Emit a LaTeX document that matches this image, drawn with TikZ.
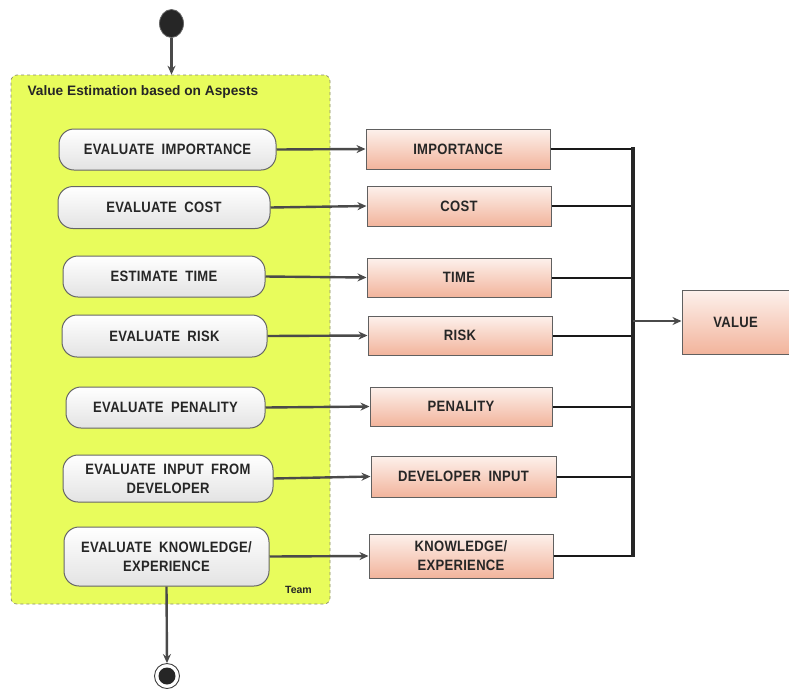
\documentclass[tikz,border=0pt]{standalone}
\usepackage{fontspec}
\setmainfont{Liberation Sans}
\newfontfamily\boxfont{Liberation Sans}[WordSpace=1.9,LetterSpace=2,FakeStretch=0.87]
\usetikzlibrary{arrows.meta,shadings,shapes.geometric}
\definecolor{swim}{HTML}{E8FC5C}
\definecolor{swimborder}{HTML}{8A8A70}
\definecolor{conn}{HTML}{4A4A4A}
\definecolor{boxtop}{HTML}{FDF1EC}
\definecolor{boxbot}{HTML}{F2B49C}
\tikzset{
  activity/.style={draw=gray!80!black, line width=1pt, rounded corners=15pt,
    top color=white, bottom color=gray!22, inner sep=0pt, align=center,
    font=\boxfont\bfseries\fontsize{15}{19}\selectfont, text=black!85},
  result/.style={draw=gray!75!black, line width=1pt,
    top color=boxtop, bottom color=boxbot, inner sep=0pt, align=center,
    font=\boxfont\bfseries\fontsize{15}{19}\selectfont, text=black!85},
  flow/.style={draw=conn, line width=2.4pt, -{Stealth[length=9pt,width=8pt]}},
  feed/.style={draw=black!90, line width=2pt},
}
\begin{document}
\begin{tikzpicture}[x=1pt, y=-1pt]
\useasboundingbox (0,0) rectangle (789,689);

% swimlane container
\node[draw=swimborder, dashed, line width=0.7pt, fill=swim, rounded corners=6pt,
  minimum width=319pt, minimum height=529pt, inner sep=0pt] (lane) at (170.5,339.5) {};
\node[anchor=west, font=\bfseries\fontsize{13.7}{16}\selectfont, text=black!85] (title) at (24,92) {Value Estimation based on Aspests};
\node[font=\bfseries\fontsize{10.5}{12}\selectfont, text=black!85] (team) at (298.5,590) {Team};

% initial node
\node[ellipse, fill=black!85, draw=black!60, line width=0.8pt, minimum width=24pt, minimum height=28pt, inner sep=0pt] (start) at (171.5,23.5) {};

% activities
\node[activity, minimum width=217pt, minimum height=41pt] (a1) at (167.5,149.5) {EVALUATE IMPORTANCE};
\node[activity, minimum width=212pt, minimum height=42pt] (a2) at (164,207.5) {EVALUATE COST};
\node[activity, minimum width=202pt, minimum height=41pt] (a3) at (164,276.5) {ESTIMATE TIME};
\node[activity, minimum width=205pt, minimum height=42pt] (a4) at (164.5,336) {EVALUATE RISK};
\node[activity, minimum width=199pt, minimum height=41pt] (a5) at (165.5,407.5) {EVALUATE PENALITY};
\node[activity, minimum width=210pt, minimum height=47pt] (a6) at (168,478.5) {EVALUATE INPUT FROM\\DEVELOPER};
\node[activity, minimum width=205pt, minimum height=59pt] (a7) at (166.5,556.5) {EVALUATE KNOWLEDGE/\\EXPERIENCE};

% results
\node[result, minimum width=184pt, minimum height=40pt] (r1) at (458,149) {IMPORTANCE};
\node[result, minimum width=184pt, minimum height=40pt] (r2) at (459,206) {COST};
\node[result, minimum width=184pt, minimum height=39pt] (r3) at (459,277.5) {TIME};
\node[result, minimum width=184pt, minimum height=39pt] (r4) at (460,335.5) {RISK};
\node[result, minimum width=182pt, minimum height=39pt] (r5) at (461,406.5) {PENALITY};
\node[result, minimum width=185pt, minimum height=41pt] (r6) at (463.5,476.5) {DEVELOPER INPUT};
\node[result, minimum width=184pt, minimum height=44pt] (r7) at (461,556) {KNOWLEDGE/\\EXPERIENCE};

\node[result, minimum width=107pt, minimum height=64pt] (value) at (735.5,322) {VALUE};

% final node
\node[circle, draw=black!75, fill=white, line width=0.9pt, minimum size=25pt, inner sep=0pt] (final) at (167,676) {};
\node[circle, fill=black!85, minimum size=17pt, inner sep=0pt] (finaldot) at (final) {};

% join bar
\coordinate (bartop) at (633,147);
\coordinate (barbot) at (633,557);
\coordinate (barmid) at (633,321);

% flows
\draw[flow] (start.south) -- (lane.north -| start.south);
\foreach \i in {1,...,7} {
  \draw[flow] (a\i.east) -- (r\i.west);
  \draw[feed] (r\i.east) -- (r\i.east -| bartop);
}
\draw[draw=black!85, line width=3.5pt] (bartop) -- (barbot);
\draw[flow] (barmid) -- (barmid -| value.west);
\draw[flow] (a7.south) -- (final.north);
\end{tikzpicture}
\end{document}
